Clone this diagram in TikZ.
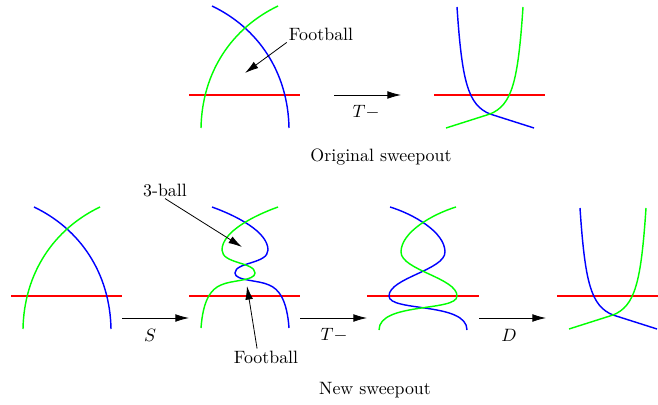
\documentclass[tikz,border=0pt]{standalone}
\usetikzlibrary{arrows.meta}
\begin{document}
\begin{tikzpicture}[x=0.56pt,y=-0.56pt,
  curve/.style={line width=0.8pt},
  redl/.style={curve,red},
  bluel/.style={curve,blue},
  greenl/.style={curve,green},
  arr/.style={line width=0.45pt,-{Latex[length=7.6pt,width=4.3pt]}},
  lbl/.style={inner sep=1pt,font=\normalsize}]
\useasboundingbox (0,0) rectangle (658,405);

% ---------- top row, picture 1 ----------
\begin{scope}[shift={(245,0)}]
  \draw[redl] (-56,95) -- (55,95);
  \draw[bluel] (-33,6) .. controls (13,28) and (43,72) .. (44,128);
  \begin{scope}[xscale=-1]
    \draw[greenl] (-33,6) .. controls (13,28) and (43,72) .. (44,128);
  \end{scope}
\end{scope}
\node[lbl] (fb1) at (321,34) {Football};
\coordinate (fbt) at (245,73);
\draw[arr] (fb1.south west) -- (fbt);

% arrow T- top
\coordinate (a1s) at (334,95);
\coordinate (a1e) at (401,95);
\draw[arr] (a1s) -- (a1e);
\node[lbl] (t1) at (366,112) {$T-$};

% ---------- top row, picture 2 ----------
\begin{scope}[shift={(490,0)}]
  \draw[redl] (-56,95) -- (55,95);
  \draw[bluel] (-33,7) .. controls (-28,82) and (-22,105) .. (0,114) -- (44,128);
  \begin{scope}[xscale=-1]
    \draw[greenl] (-33,7) .. controls (-28,82) and (-22,105) .. (0,114) -- (44,128);
  \end{scope}
\end{scope}

\node[lbl] (orig) at (381,157) {Original sweepout};

% ---------- bottom row, picture A ----------
\begin{scope}[shift={(67,201)}]
  \draw[redl] (-56,95) -- (55,95);
  \draw[bluel] (-33,6) .. controls (13,28) and (43,72) .. (44,128);
  \begin{scope}[xscale=-1]
    \draw[greenl] (-33,6) .. controls (13,28) and (43,72) .. (44,128);
  \end{scope}
\end{scope}

\coordinate (a2s) at (122,318);
\coordinate (a2e) at (189,318);
\draw[arr] (a2s) -- (a2e);
\node[lbl] (s) at (150,335) {$S$};

% ---------- bottom row, picture B ----------
\begin{scope}[shift={(245,0)}]
  \draw[redl] (-56,296) -- (55,296);
  \draw[bluel] (-33,207) .. controls (-8,216) and (23,232) .. (23,250)
     .. controls (23,264) and (-10,262) .. (-10,273)
     .. controls (-10,281) and (14,280) .. (24,285)
     .. controls (34,289) and (42,300) .. (44,328);
  \begin{scope}[xscale=-1]
  \draw[greenl] (-33,207) .. controls (-8,216) and (23,232) .. (23,250)
     .. controls (23,264) and (-10,262) .. (-10,273)
     .. controls (-10,281) and (14,280) .. (24,285)
     .. controls (34,289) and (42,300) .. (44,328);
  \end{scope}
\end{scope}
\node[lbl] (ball) at (165,190) {3-ball};
\coordinate (ballt) at (242,247);
\draw[arr] (ball.south) -- (ballt);
\node[lbl] (fb2) at (266,357) {Football};
\coordinate (fb2t) at (247,286);
\draw[arr] ([xshift=-5pt]fb2.north) -- (fb2t);

\coordinate (a3s) at (300,318);
\coordinate (a3e) at (367,318);
\draw[arr] (a3s) -- (a3e);
\node[lbl] (t2) at (334,335) {$T-$};

% ---------- bottom row, picture C ----------
\begin{scope}[shift={(423,0)}]
  \draw[redl] (-56,296) -- (56,296);
  \draw[bluel] (-33,207) .. controls (-10,214) and (22,232) .. (22,252)
     .. controls (22,270) and (-34,278) .. (-34,296)
     .. controls (-34,312) and (44,302) .. (44,330);
  \begin{scope}[xscale=-1]
  \draw[greenl] (-33,207) .. controls (-10,214) and (22,232) .. (22,252)
     .. controls (22,270) and (-34,278) .. (-34,296)
     .. controls (-34,312) and (44,302) .. (44,330);
  \end{scope}
\end{scope}

\coordinate (a4s) at (479,318);
\coordinate (a4e) at (546,318);
\draw[arr] (a4s) -- (a4e);
\node[lbl] (d) at (509,335) {$D$};

% ---------- bottom row, picture D ----------
\begin{scope}[shift={(613,201)}]
  \draw[redl] (-56,95) -- (45,95);
  \draw[bluel] (-33,7) .. controls (-28,82) and (-22,105) .. (0,114) -- (44,128);
  \begin{scope}[xscale=-1]
    \draw[greenl] (-33,7) .. controls (-28,82) and (-22,105) .. (0,114) -- (44,128);
  \end{scope}
\end{scope}

\node[lbl] (new) at (375,390) {New sweepout};
\end{tikzpicture}
\end{document}
